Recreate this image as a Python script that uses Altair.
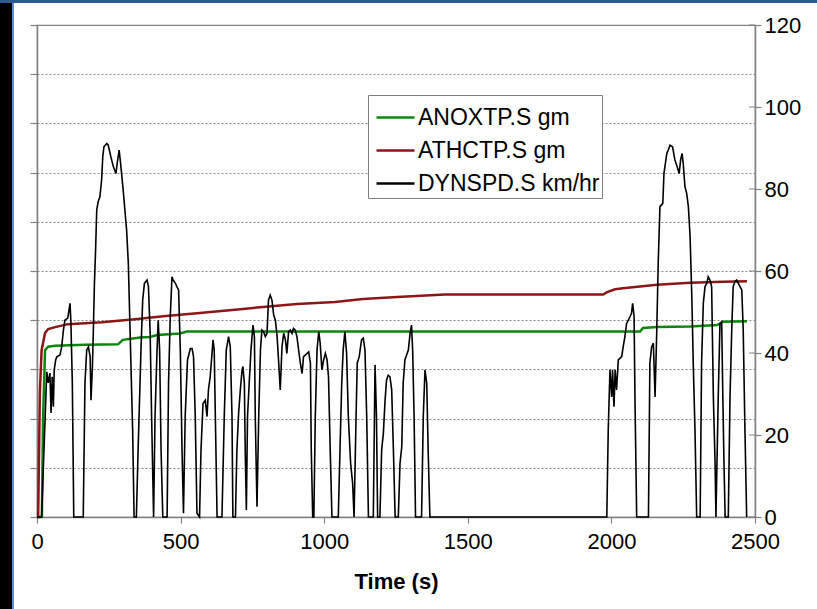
import altair as alt
import pandas as pd

FONT = "Liberation Sans"

series_names = ["ANOXTP.S gm", "ATHCTP.S gm", "DYNSPD.S km/hr"]
series_colors = ["#0b860b", "#8c1515", "#000000"]

x_ticks = [0, 500, 1000, 1500, 2000, 2500]
left_ticks = [0, 10, 20, 30, 40, 50, 60, 70, 80, 90, 100]
right_ticks = [0, 20, 40, 60, 80, 100, 120]

# DYNSPD.S (km/hr) - right axis
speed_time = [
    0, 16, 34, 39, 45, 49, 53, 57, 60, 65,
    69, 80, 86, 92, 97, 107, 109, 115, 118, 123,
    128, 161, 167, 173, 179, 185, 188, 193, 196, 200,
    204, 208, 213, 219, 225, 229, 233, 243, 248, 257,
    266, 275, 280, 286, 291, 300, 312, 318, 324, 333,
    338, 346, 352, 362, 368, 374, 383, 388, 394, 399,
    406, 411, 418, 422, 427, 432, 438, 453, 458, 464,
    470, 474, 482, 487, 493, 499, 505, 510, 516, 524,
    534, 540, 545, 551, 557, 566, 571, 578, 586, 592,
    597, 603, 613, 617, 621, 627, 644, 652, 659, 667,
    673, 679, 682, 691, 696, 702, 708, 714, 717, 722,
    725, 729, 733, 740, 745, 752, 757, 760, 766, 772,
    778, 783, 789, 795, 801, 806, 812, 818, 824, 830,
    836, 841, 847, 853, 859, 865, 870, 876, 882, 888,
    893, 899, 905, 911, 917, 923, 928, 934, 946, 952,
    955, 960, 964, 969, 975, 981, 986, 992, 998, 1004,
    1010, 1015, 1021, 1027, 1049, 1055, 1061, 1066, 1072, 1078,
    1084, 1092, 1099, 1104, 1111, 1115, 1122, 1130, 1136, 1142,
    1148, 1154, 1171, 1177, 1182, 1186, 1194, 1200, 1206, 1212,
    1217, 1223, 1229, 1235, 1241, 1247, 1258, 1264, 1270, 1275,
    1281, 1287, 1293, 1299, 1304, 1308, 1313, 1318, 1339, 1345,
    1351, 1357, 1362, 1368, 1984, 1989, 1995, 2001, 2004, 2009,
    2013, 2018, 2024, 2036, 2041, 2047, 2053, 2059, 2065, 2070,
    2074, 2079, 2082, 2088, 2129, 2134, 2140, 2146, 2152, 2158,
    2163, 2169, 2179, 2183, 2193, 2198, 2204, 2213, 2221, 2229,
    2236, 2241, 2246, 2250, 2256, 2262, 2268, 2274, 2280, 2285,
    2291, 2297, 2309, 2314, 2320, 2326, 2332, 2337, 2343, 2349,
    2355, 2361, 2364, 2372, 2378, 2384, 2388, 2392, 2396, 2407,
    2413, 2419, 2424, 2430, 2436, 2442, 2448, 2454, 2459, 2465,
    2471,
]
speed_kmh = [
    0, 0, 35.4, 32.7, 35.1, 25.4, 34.2, 26.9, 35.9, 38.3,
    39.1, 39.5, 41.5, 45.6, 48.0, 48.5, 49.3, 52.1, 47.6, 32.7,
    0, 0, 32.7, 40.7, 41.5, 39.1, 28.5, 36.7, 44.9, 57.1,
    65.1, 74.9, 76.9, 78.1, 82.2, 87.9, 90.3, 91.1, 90.7, 87.9,
    85.4, 83.8, 86.7, 89.5, 86.3, 79.8, 70.0, 61.9, 45.6, 21.2,
    0, 0, 16.3, 40.7, 52.9, 57.0, 57.8, 56.2, 44.9, 24.5,
    0, 24.5, 40.7, 48.0, 40.7, 16.3, 0, 0, 32.6, 48.9,
    58.6, 57.8, 57.0, 56.2, 55.4, 40.7, 16.3, 0.9, 24.5, 38.3,
    41.1, 41.1, 39.1, 24.5, 0.9, 0, 16.3, 27.7, 28.5, 24.5,
    31.0, 34.2, 43.2, 40.7, 24.5, 0, 0, 24.5, 40.7, 44.0,
    41.5, 24.5, 0, 0, 16.3, 25.3, 31.0, 35.9, 36.7, 32.6,
    16.3, 1.7, 24.5, 34.2, 40.7, 46.8, 44.0, 24.5, 2.5, 24.5,
    40.7, 45.6, 45.2, 44.0, 44.8, 52.9, 54.1, 52.9, 49.3, 48.0,
    44.0, 38.3, 31.0, 41.5, 44.8, 43.2, 39.9, 45.2, 45.6, 44.8,
    46.0, 45.6, 44.0, 40.7, 37.5, 35.0, 39.1, 39.5, 40.3, 37.5,
    16.3, 0, 0, 24.5, 40.7, 45.2, 42.4, 35.9, 38.3, 39.9,
    38.3, 34.2, 16.3, 0, 0, 16.3, 32.6, 40.7, 45.2, 39.9,
    24.5, 13.1, 8.2, 0, 24.5, 37.5, 39.1, 43.2, 43.6, 40.7,
    24.5, 0, 0, 37.1, 24.5, 0, 0, 16.3, 20.4, 28.5,
    33.4, 34.6, 34.2, 31.0, 16.3, 0, 0, 13.1, 17.1, 32.6,
    38.3, 39.5, 40.7, 44.8, 46.8, 40.7, 24.5, 0, 0, 24.5,
    35.9, 32.6, 16.3, 0, 0, 21.2, 35.9, 29.3, 35.9, 26.9,
    35.9, 31.0, 38.3, 39.1, 41.5, 44.0, 47.2, 48.0, 48.9, 49.7,
    52.1, 48.9, 29.3, 0, 0, 37.5, 41.5, 42.4, 29.3, 45.6,
    61.9, 75.7, 76.5, 83.8, 88.7, 89.5, 90.7, 90.3, 87.1, 85.4,
    83.8, 87.1, 88.7, 86.3, 80.6, 79.0, 75.7, 68.4, 53.7, 37.5,
    21.2, 0, 0, 37.5, 52.1, 56.2, 57.0, 58.6, 57.8, 56.2,
    29.3, 13.1, 0, 29.3, 47.2, 47.6, 29.3, 13.1, 0, 0,
    29.3, 45.6, 56.2, 57.4, 57.8, 57.0, 56.2, 55.4, 45.6, 21.2,
    0,
]

# ANOXTP.S (gm) - left axis
nox_time = [0, 17, 21, 28, 39, 63, 167, 282, 299, 359, 393, 418, 498, 522,
            2100, 2110, 2159, 2274, 2368, 2389, 2472]
nox_gm = [0, 0, 19.7, 33.9, 34.6, 34.8, 35.0, 35.1, 36.0, 36.5, 36.6, 37.0, 37.3, 37.7,
          37.7, 38.4, 38.6, 38.7, 39.0, 39.7, 39.8]

# ATHCTP.S (gm) - left axis
hc_time = [0, 4, 10, 16, 28, 39, 63, 108, 226, 341, 439, 557, 689, 787, 905, 1038,
           1135, 1254, 1421, 1971, 1985, 2013, 2040, 2159, 2274, 2389, 2472]
hc_gm = [0, 0, 25.2, 33.9, 37.4, 38.2, 38.6, 39.2, 39.6, 40.2, 40.8, 41.4, 42.1, 42.7, 43.3, 43.7,
         44.3, 44.7, 45.2, 45.2, 45.7, 46.3, 46.5, 47.2, 47.6, 47.8, 47.9]

n = min(len(speed_time), len(speed_kmh))
speed_df = pd.DataFrame({"t": speed_time[:n], "v": speed_kmh[:n], "series": series_names[2]})
nox_df = pd.DataFrame({"t": nox_time, "g": nox_gm, "series": series_names[0]})
hc_df = pd.DataFrame({"t": hc_time, "g": hc_gm, "series": series_names[1]})
rtick_df = pd.DataFrame({"v": right_ticks})
dummy = pd.DataFrame({"k": [0]})

W, H = 718, 492
AX = "#808080"

x_enc = alt.X(
    "t:Q",
    scale=alt.Scale(domain=[0, 2500], nice=False, zero=False),
    axis=alt.Axis(values=x_ticks, title="Time (s)", grid=False, tickSize=6,
                  labelPadding=8, titlePadding=19, format="d", labelFlush=False),
)

color_scale = alt.Scale(domain=series_names, range=series_colors)
legend = alt.Legend(
    orient="none", legendX=331, legendY=70, title=None, direction="vertical",
    symbolType="stroke", symbolSize=1444, symbolStrokeWidth=2.5, symbolOffset=5,
    labelFont=FONT, labelFontSize=23, labelColor="black", labelOffset=2,
    labelLimit=400, rowPadding=-6, padding=2,
    strokeColor="#7f7f7f", fillColor="white",
)
color_enc = alt.Color("series:N", scale=color_scale, legend=legend)

left_y = alt.Y(
    "g:Q",
    scale=alt.Scale(domain=[0, 100], nice=False),
    axis=alt.Axis(orient="left", values=left_ticks, labels=False, grid=True,
                  gridDash=[2, 2], gridColor="#8a8a8a", gridWidth=1,
                  tickSize=7, title=None),
)

right_y = alt.Y(
    "v:Q",
    scale=alt.Scale(domain=[0, 120], nice=False),
    axis=alt.Axis(orient="right", values=right_ticks, grid=False, tickSize=6,
                  labelPadding=3, title=None, labelFlush=False),
)

nox_line = alt.Chart(nox_df).mark_line(strokeWidth=2.5).encode(
    x=x_enc, y=left_y, color=color_enc)
hc_line = alt.Chart(hc_df).mark_line(strokeWidth=2.5).encode(
    x=x_enc, y=left_y, color=color_enc)

black_band = alt.Chart(dummy).mark_rect(color="black").encode(
    x=alt.value(-37), x2=alt.value(-25), y=alt.value(-25), y2=alt.value(H + 92))
blue_edge = alt.Chart(dummy).mark_rect(color="#5d8fcf").encode(
    x=alt.value(-25), x2=alt.value(-23), y=alt.value(-25), y2=alt.value(H + 92))
top_edge = alt.Chart(dummy).mark_rect(color="#2d5a92").encode(
    x=alt.value(-37), x2=alt.value(W + 62), y=alt.value(-25), y2=alt.value(-22))

left_group = alt.layer(nox_line, hc_line, black_band, blue_edge, top_edge)

speed_line = alt.Chart(speed_df).mark_line(strokeWidth=1.6).encode(
    x=x_enc, y=right_y, color=color_enc)
inner_ticks = alt.Chart(rtick_df).mark_rule(color=AX, strokeWidth=1).encode(
    y=right_y, x=alt.value(W - 6), x2=alt.value(W))

right_group = alt.layer(inner_ticks, speed_line)

chart = alt.layer(left_group, right_group).resolve_scale(
    y="independent"
).properties(
    width=W, height=H,
    autosize=alt.AutoSizeParams(type="none"),
    padding={"left": 37, "top": 25, "right": 62, "bottom": 92},
    background="white",
).configure_view(
    stroke=AX, strokeWidth=1.2, fill="white"
).configure_axis(
    labelFont=FONT, labelFontSize=22, labelColor="black",
    titleFont=FONT, titleFontSize=22, titleFontWeight="bold", titleColor="black",
    domainColor=AX, domainWidth=1.5, tickColor=AX, tickWidth=1.2,
)

chart.save("out.html", embed_options={"renderer": "svg", "actions": False})
